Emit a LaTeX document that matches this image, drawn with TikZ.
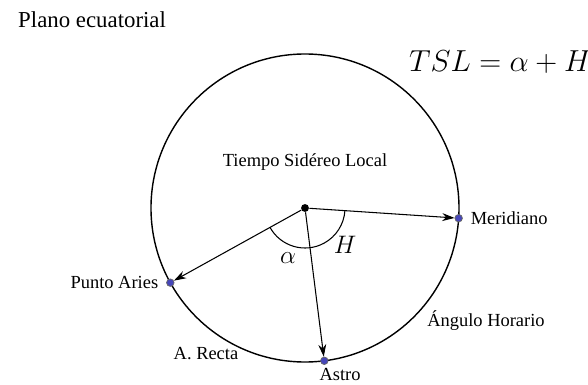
\documentclass[tikz,border=0pt]{standalone}
\usepackage{amsmath}
\usepackage{fontspec}
\setmainfont{Liberation Serif}
\usepackage{tikz}
\usetikzlibrary{arrows.meta,positioning}

\begin{document}
\begin{tikzpicture}[
  x=0.02cm, y=0.02cm,
  font=\fontsize{10.5pt}{12.6pt}\selectfont,
  centro/.style={circle, fill=black, inner sep=0pt, minimum size=4.5pt},
  punto/.style={circle, draw=black!60, fill=blue!45!gray, inner sep=0pt, minimum size=4.3pt},
  flecha/.style={-{Stealth[length=7pt,width=4.5pt]}, semithick}
]
\useasboundingbox (-305,-177) rectangle (283,208);
\node[centro] (o) at (0,0) {};
\draw[line width=0.8pt] (o.center) circle (154);
\node[punto] (meridiano) at (-3.8:154) {};
\node[punto] (aries) at (-151:154) {};
\node[punto] (astro) at (-82.8:154) {};
\draw[flecha] (o) -- (meridiano);
\draw[flecha] (o) -- (aries);
\draw[flecha] (o) -- (astro);
% angulos
\draw[semithick] (o.center) ++(208.8:40) arc (208.8:356.2:40);
\node (alfa) at (-17,-50) {\Large$\alpha$};
\node (hora) at (40,-37) {\Large$H$};
% textos
\node[anchor=west] (plano) at (-293,188) {\fontsize{13pt}{15pt}\selectfont Plano ecuatorial};
\node (formula) at (195,146) {\LARGE$TSL=\alpha+H$};
\node (tsl) at (0,46) {Tiempo Sidéreo Local};
\node[right=1pt of meridiano] (tmeridiano) {Meridiano};
\node[left=1pt of aries] (taries) {Punto Aries};
\node (tastro) at (35,-166) {Astro};
\node (recta) at (-99,-146) {A. Recta};
\node (horario) at (181,-113) {Ángulo Horario};
\end{tikzpicture}
\end{document}
